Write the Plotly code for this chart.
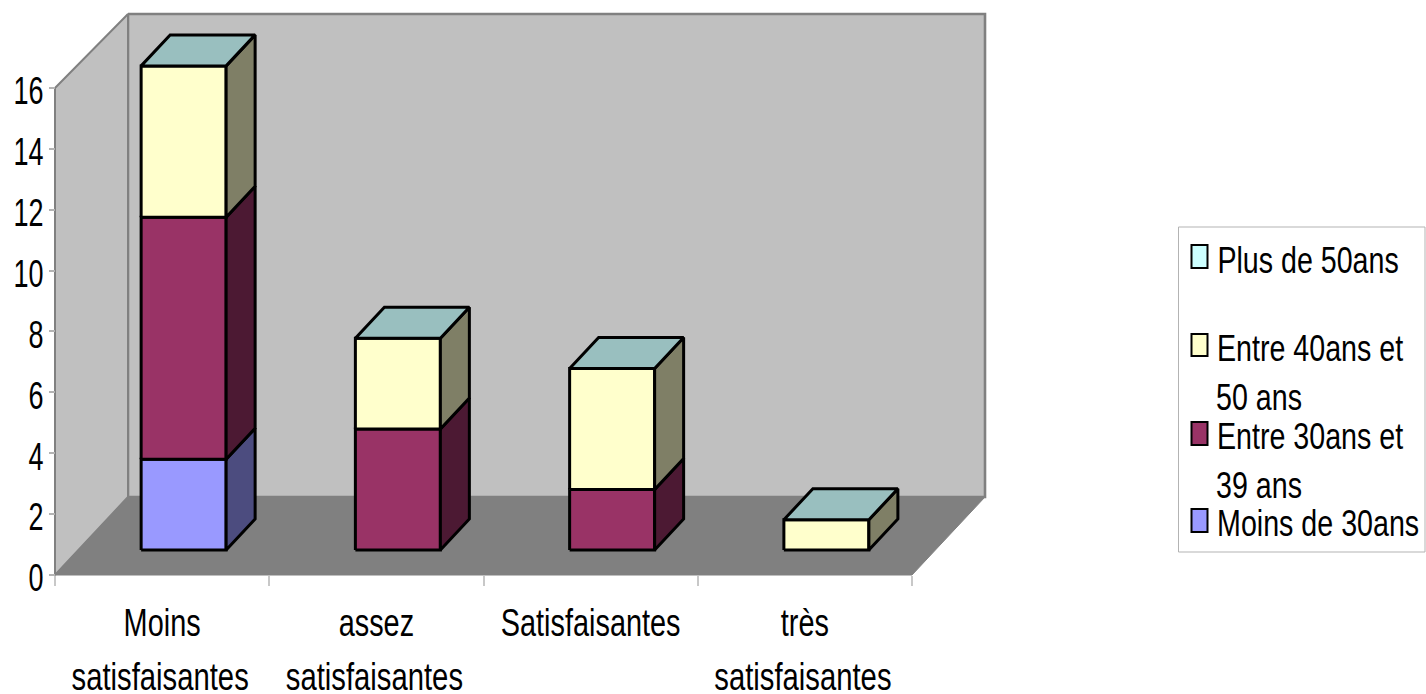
import plotly.graph_objects as go

# ---- data ----
categories_line1 = ["Moins", "assez", "Satisfaisantes", "très"]
categories_line2 = ["satisfaisantes", "satisfaisantes", "", "satisfaisantes"]
series_names = ["Moins de 30ans", "Entre 30ans et 39 ans", "Entre 40ans et 50 ans", "Plus de 50ans"]
moins_30 = [3, 0, 0, 0]
entre_30_39 = [8, 4, 2, 0]
entre_40_50 = [5, 3, 4, 1]
plus_50 = [0, 0, 0, 0]
series_values = [moins_30, entre_30_39, entre_40_50, plus_50]
series_colors = ["#9999ff", "#993366", "#ffffcc", "#ccffff"]
y_ticks = list(range(0, 17, 2))

# ---- geometry ----
W, H = 1426, 694
X0, UX = 55.0, 214.25     # px of category edge 0, px per category
Y0, UY = 575.0, 30.44     # px of value 0, px per value unit
FONT = "Liberation Sans, Arial, sans-serif"


def dx(px):
    return px / UX


def dy(px):
    return px / UY


def X(px):
    return (px - X0) / UX


def Y(py):
    return (Y0 - py) / UY


def shade(col, f):
    r, g, b = int(col[1:3], 16), int(col[3:5], 16), int(col[5:7], 16)
    return "rgb(%d,%d,%d)" % (r * f, g * f, b * f)


fig = go.Figure()


def poly(xs, ys, fill, line="black", lw=3, name=None):
    fig.add_trace(go.Scatter(
        x=xs + xs[:1], y=ys + ys[:1], mode="lines", fill="toself", fillcolor=fill,
        line=dict(color=line, width=lw), hoverinfo="skip", showlegend=False,
        name=name, cliponaxis=False))


# walls and floor
WALL = "#c0c0c0"
EDGE = "#808080"
poly([X(128), X(985), X(985), X(128)], [Y(14), Y(14), Y(497), Y(497)], WALL, EDGE, 2.6)
poly([X(55), X(128), X(128), X(55)], [Y(88), Y(14), Y(497), Y(575)], WALL, EDGE, 2)
poly([X(55), X(912), X(985), X(128)], [Y(575), Y(575), Y(497), Y(497)], "#808080", EDGE, 1)

# stacked 3D bars
BAR_W = dx(85)
FRONT_X, FRONT_Y = dx(21.5), dy(25)
DEPTH_X, DEPTH_Y = dx(29), dy(31)
PERSP = 0.994   # front plane of the bars is slightly further than the axis plane

for i in range(len(categories_line1)):
    left = i + 0.5 - BAR_W / 2 + FRONT_X
    right = left + BAR_W
    base = 0.0
    for s, vals in enumerate(series_values):
        v = vals[i]
        top = base + v
        b, t = base * PERSP + FRONT_Y, top * PERSP + FRONT_Y
        col = series_colors[s]
        if v > 0:
            poly([left, right, right, left], [b, b, t, t], col, name=series_names[s])
            poly([right, right + DEPTH_X, right + DEPTH_X, right],
                 [b, b + DEPTH_Y, t + DEPTH_Y, t], shade(col, 0.5), name=series_names[s])
        if s == len(series_values) - 1:
            poly([left, right, right + DEPTH_X, left + DEPTH_X],
                 [t, t, t + DEPTH_Y, t + DEPTH_Y], shade(col, 0.75), name=series_names[s])
        base = top

# legend (positions in pixels of the page)
shapes = []
annotations = []


def px(x):
    return x / W


def py(y):
    return 1 - y / H


shapes.append(dict(type="rect", xref="paper", yref="paper", x0=px(1178.5), x1=px(1425), y0=py(552), y1=py(227),
                   line=dict(color="#b3b3b3", width=1), fillcolor="white"))
legend_rows = [
    (3, 245, 268, [("Plus de 50ans", 1307.5, 260)]),
    (2, 334, 356, [("Entre 40ans et", 1310, 348), ("50 ans", 1258.5, 398)]),
    (1, 422, 445, [("Entre 30ans et", 1310, 436), ("39 ans", 1258.5, 485)]),
    (0, 509, 532, [("Moins de 30ans", 1318, 523)]),
]
for s, y0, y1, lines in legend_rows:
    shapes.append(dict(type="rect", xref="paper", yref="paper", x0=px(1191.5), x1=px(1207.5), y0=py(y1), y1=py(y0),
                       line=dict(color="black", width=2), fillcolor=series_colors[s]))
    for text, xc, yc in lines:
        annotations.append(dict(text=text, xref="paper", yref="paper", x=px(xc), y=py(yc), xanchor="center",
                                yanchor="middle", showarrow=False, font=dict(family=FONT, size=36, color="black")))

rx = [X(0), X(W)]
ry = [Y(H), Y(0)]
line2_ticks = [0.5 + dx(-2), 1.5 + dx(-2), 2.5, 3.5 + dx(-2)]
fig.update_layout(
    width=W, height=H, margin=dict(l=0, r=0, t=0, b=0), autosize=False,
    paper_bgcolor="white", plot_bgcolor="white", showlegend=False,
    shapes=shapes, annotations=annotations,
    xaxis=dict(domain=[0, 1], range=rx, showgrid=False, zeroline=False, showline=False, automargin=False,
               anchor="free", position=py(575), tickangle=0,
               tickmode="array", tickvals=[0.5, 1.5, 2.5, 3.5], ticktext=categories_line1,
               ticks="", ticklabelstandoff=22,
               tickfont=dict(family=FONT, size=38, color="black"),
               minor=dict(tickmode="array", tickvals=[0, 1, 2, 3, 4], ticks="outside", ticklen=10,
                          tickcolor="#c8c8c8", tickwidth=1.5, showgrid=False)),
    xaxis2=dict(overlaying="x", range=rx, showgrid=False, zeroline=False, showline=False, automargin=False,
                side="bottom", anchor="free", position=py(575), tickangle=0,
                tickmode="array", tickvals=line2_ticks, ticktext=categories_line2,
                ticks="", ticklabelstandoff=76,
                tickfont=dict(family=FONT, size=38, color="black")),
    yaxis=dict(domain=[0, 1], range=ry, showgrid=False, zeroline=False, showline=False, automargin=False,
               anchor="free", position=px(55), tickmode="array", tickvals=y_ticks,
               ticktext=[str(v) for v in y_ticks],
               ticks="outside", ticklen=6, tickcolor="#b3b3b3", tickwidth=1.5,
               tickfont=dict(family=FONT, size=38, color="black")),
)
# dummy trace so the second category axis is drawn
fig.add_trace(go.Scatter(x=[0.5], y=[0], xaxis="x2", mode="markers", marker=dict(opacity=0),
                         hoverinfo="skip", showlegend=False))

# condense text horizontally, as in the reference's narrow lettering
condense = """
document.body.style.margin='0';
function squeeze(sel,f){document.querySelectorAll(sel).forEach(function(t){
  var w=t.getComputedTextLength(); if(w>0){t.setAttribute('textLength',w*f);t.setAttribute('lengthAdjust','spacingAndGlyphs');}
});}
squeeze('.xtick text',0.76);squeeze('.x2tick text',0.77);squeeze('.ytick text',0.71);squeeze('.annotation-text',0.795);
document.querySelectorAll('.ytick text').forEach(function(t){t.setAttribute('dx','2');t.setAttribute('dy','3');});
"""
fig.write_html("out.html", config={"displayModeBar": False}, post_script=condense)
